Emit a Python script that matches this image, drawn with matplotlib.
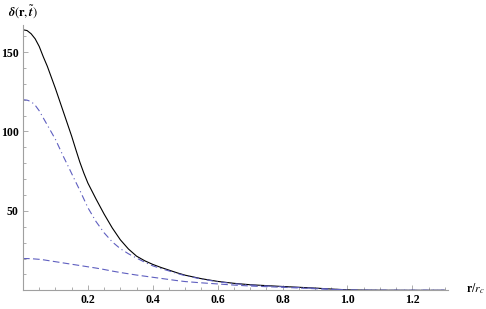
import matplotlib
matplotlib.use("Agg")
import matplotlib.pyplot as plt
from matplotlib.ticker import MultipleLocator

plt.rcParams["font.family"] = ["Liberation Serif", "DejaVu Serif"]
plt.rcParams["mathtext.fontset"] = "stix"

# r / r_c sample positions shared by the three curves
r = [0, 0.0125, 0.025, 0.0375, 0.05, 0.0625, 0.075, 0.0875, 0.1, 0.1125, 0.125,
     0.1375, 0.15, 0.1625, 0.175, 0.1875, 0.2,
     0.225, 0.25, 0.275, 0.3, 0.325, 0.35, 0.375, 0.4, 0.425, 0.45, 0.475, 0.5,
     0.55, 0.6, 0.65, 0.7, 0.8, 0.9, 0.95, 1.0, 1.05, 1.1, 1.2, 1.3]

delta_solid = [164, 163.5, 161.5, 158.3, 153.5, 147, 141, 134, 127, 119.5, 112,
               104.5, 97, 88.8, 80.8, 73.8, 67.5,
               57.5, 48, 39.3, 31.8, 26, 21.5, 18.6, 16.3, 14.4, 12.7, 11, 9.5,
               7.3, 5.6, 4.4, 3.5, 2.4, 1.4, 0.8, 0.3, 0.1, 0.05, 0, 0]
delta_dashdot = [120, 119.7, 118.8, 116.5, 113, 108.5, 104, 99.5, 95, 89.5, 84,
                 78.8, 73.5, 68.2, 63, 57.5, 52,
                 43.3, 36.2, 30.5, 26.2, 23, 20.3, 17.7, 15.4, 13.7, 12.2, 10.6, 9.2,
                 7.1, 5.4, 4.2, 3.3, 2.2, 1.3, 0.75, 0.2, 0.08, 0.03, 0, 0]
delta_dashed = [20, 19.97, 19.9, 19.7, 19.5, 19.2, 18.8, 18.4, 18, 17.6, 17.2,
                16.8, 16.4, 16.0, 15.6, 15.2, 14.8,
                14.0, 13.1, 12.1, 11.2, 10.4, 9.6, 8.9, 8.2, 7.5, 6.8, 6.1, 5.5,
                4.7, 4.0, 3.3, 2.7, 1.9, 1.0, 0.55, 0.1, 0.03, 0, 0, 0]

xticks = [0.2, 0.4, 0.6, 0.8, 1.0, 1.2]
yticks = [50, 100, 150]

W, H = 486, 309
fig = plt.figure(figsize=(W / 100, H / 100), dpi=100)
ax = fig.add_axes([23 / W, (H - 290.3) / H, 425 / W, (290.3 - 25) / H])

blue = "#5f5fc0"
ax.plot(r, delta_solid, color="black", linewidth=0.8)
ax.plot(r, delta_dashdot, color=blue, linewidth=0.8, dashes=(6, 3, 1, 3))
ax.plot(r, delta_dashed, color=blue, linewidth=0.8, dashes=(6, 3))

ax.set_xlim(0, 1.31)
ax.set_ylim(0, 167)
ax.set_xticks(xticks)
ax.set_xticklabels([f"{v:.1f}" for v in xticks])
ax.set_yticks(yticks)
ax.xaxis.set_minor_locator(MultipleLocator(0.05))
ax.yaxis.set_minor_locator(MultipleLocator(10))

for s in ["top", "right"]:
    ax.spines[s].set_visible(False)
for s in ["left", "bottom"]:
    ax.spines[s].set_color("#a0a0a0")
    ax.spines[s].set_linewidth(0.8)

ax.tick_params(which="both", direction="in", color="#a0a0a0", width=0.6,
               labelsize=8.5, labelcolor="black")
ax.tick_params(which="major", length=3.5)
ax.tick_params(which="minor", length=2)
ax.tick_params(axis="x", pad=3)
ax.tick_params(axis="y", pad=3)
for lab in ax.get_xticklabels() + ax.get_yticklabels():
    lab.set_fontweight("bold")

fig.text(23 / W, 1 - 12 / H, r"$\boldsymbol{\delta}(\mathbf{r},\tilde{\boldsymbol{t}})$",
         ha="center", va="center", fontsize=9)
fig.text(466 / W, 1 - 289 / H, r"$\mathbf{r}/r_c$", ha="left", va="center", fontsize=8.5)

fig.savefig("out.png", dpi=100)
